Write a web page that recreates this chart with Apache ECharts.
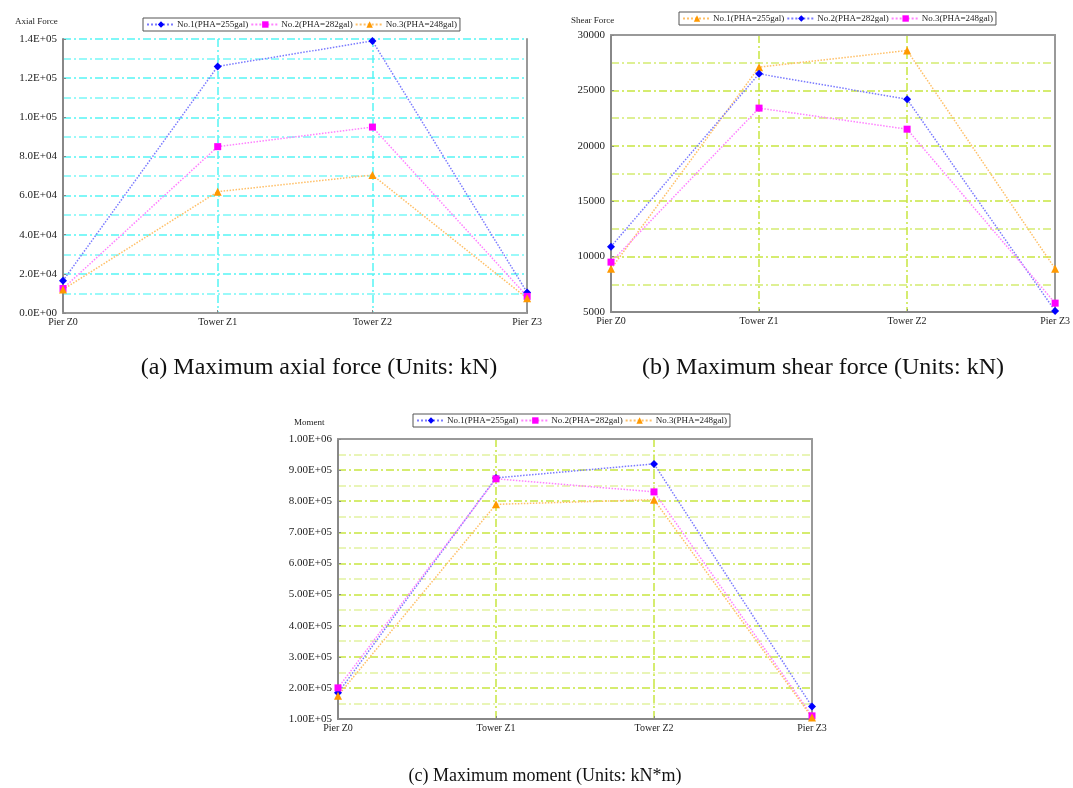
<!DOCTYPE html>
<html><head><meta charset="utf-8">
<script src="https://cdn.jsdelivr.net/npm/echarts@6/dist/echarts.min.js"></script>
<style>
html,body{margin:0;padding:0;background:#fff;width:1073px;height:788px;overflow:hidden;}
.c{position:absolute;}
</style></head>
<body>
<div id="ca" class="c" style="left:0;top:0;width:545px;height:385px;"></div>
<div id="cb" class="c" style="left:545px;top:0;width:528px;height:385px;"></div>
<div id="cc" class="c" style="left:270px;top:395px;width:560px;height:393px;"></div>
<script>
const categories = ['Pier Z0', 'Tower Z1', 'Tower Z2', 'Pier Z3'];
const seriesNames = ['No.1(PHA=255gal)', 'No.2(PHA=282gal)', 'No.3(PHA=248gal)'];

// (a) axial force
const axialNo1 = [16500, 126000, 139000, 10500];
const axialNo2 = [12500, 85000, 95000, 8500];
const axialNo3 = [12000, 62000, 70500, 7500];
const axialTicks = ['0.0E+00', '2.0E+04', '4.0E+04', '6.0E+04', '8.0E+04', '1.0E+05', '1.2E+05', '1.4E+05'];

// (b) shear force
const shearNo1 = [8900, 27100, 28600, 8900];
const shearNo2 = [10900, 26500, 24200, 5100];
const shearNo3 = [9500, 23400, 21500, 5800];
const shearTicks = ['5000', '10000', '15000', '20000', '25000', '30000'];

// (c) moment
const momentNo1 = [184000, 875000, 920000, 140000];
const momentNo2 = [200000, 872000, 830000, 110000];
const momentNo3 = [175000, 790000, 805000, 105000];
const momentTicks = ['1.00E+05', '2.00E+05', '3.00E+05', '4.00E+05', '5.00E+05', '6.00E+05', '7.00E+05', '8.00E+05', '9.00E+05', '1.00E+06'];

const FONT = '"Liberation Serif", "DejaVu Serif", serif';
const STY = {
  blue: {symbol: 'diamond', item: '#0000ff', line: '#7a7aff'},
  mag: {symbol: 'rect', item: '#ff00ff', line: '#ff80ff'},
  org: {symbol: 'triangle', item: '#ff9900', line: '#ffbf66'}
};

function mkSeries(name, data, st) {
  return {
    name: name, type: 'line', data: data, z: 5,
    symbol: st.symbol, symbolSize: st.symbol === 'rect' ? 7 : 8,
    itemStyle: {color: st.item},
    lineStyle: {color: st.line, width: 1.5, type: 'dotted'},
    emphasis: {disabled: true},
    animation: false
  };
}

function build(el, cfg) {
  const chart = echarts.init(document.getElementById(el), null, {renderer: 'canvas'});
  const labels = cfg.ticks;
  const dash = [8, 3, 2, 3];
  chart.setOption({
    animation: false,
    title: [
      {text: cfg.yName, left: cfg.yNameLeft, top: cfg.yNameTop, textStyle: {fontFamily: FONT, fontSize: 9, fontWeight: 'normal', color: '#222'}},
      {text: cfg.caption, left: cfg.capLeft, top: cfg.capTop, textAlign: 'center', textStyle: {fontFamily: FONT, fontSize: cfg.capSize, fontWeight: 'normal', color: '#111'}}
    ],
    legend: {
      left: cfg.legLeft, top: cfg.legTop,
      data: cfg.legend,
      borderColor: '#555', borderWidth: 1, padding: [2, 3],
      itemWidth: 28, itemHeight: 8, itemGap: 2,
      textStyle: {fontFamily: FONT, fontSize: 9, color: '#222', padding: [0, 0, 0, -3]},
      selectedMode: false
    },
    grid: {left: cfg.grid[0], top: cfg.grid[1], width: cfg.grid[2], height: cfg.grid[3], show: false},
    xAxis: [{
      type: 'category', data: categories, boundaryGap: false,
      axisLine: {lineStyle: {color: '#888', width: 2}},
      axisTick: {show: true, inside: true, length: 3, lineStyle: {color: '#888'}},
      axisLabel: {fontFamily: FONT, fontSize: 10, color: '#222', margin: 4},
      splitLine: {show: true, lineStyle: {color: cfg.gridColor, width: 1.5, type: dash}}
    }, {
      type: 'category', data: categories, boundaryGap: false, position: 'top',
      axisLine: {show: true, lineStyle: {color: '#999', width: 2}},
      axisTick: {show: false}, axisLabel: {show: false}, splitLine: {show: false}
    }],
    yAxis: [{
      type: 'value', min: cfg.min, max: cfg.max, interval: cfg.interval,
      axisLine: {show: true, lineStyle: {color: '#888', width: 2}},
      axisTick: {show: true, inside: true, length: 3, lineStyle: {color: '#888'}},
      axisLabel: {fontFamily: FONT, fontSize: 11, color: '#222', margin: 6,
        formatter: function (v) { const i = Math.round((v - cfg.min) / cfg.interval); return labels[i] || ''; }},
      splitLine: {show: true, lineStyle: {color: cfg.gridColor, width: 1.5, type: dash}},
      minorTick: {show: false, splitNumber: 2},
      minorSplitLine: {show: true, lineStyle: {color: cfg.minorColor, width: 1.5, type: dash}}
    }, {
      type: 'value', min: cfg.min, max: cfg.max, interval: cfg.interval, position: 'right',
      axisLine: {show: true, lineStyle: {color: '#999', width: 2}},
      axisTick: {show: false}, axisLabel: {show: false}, splitLine: {show: false}
    }],
    series: cfg.series
  });
}

build('ca', {
  yName: 'Axial Force', yNameLeft: 10, yNameTop: 12,
  caption: '(a) Maximum axial force (Units: kN)', capLeft: 314, capTop: 351, capSize: 24,
  legLeft: 143, legTop: 18, legend: seriesNames,
  grid: [63, 39, 472, 274],
  min: 0, max: 140000, interval: 20000, ticks: axialTicks,
  gridColor: '#55f5f5', minorColor: '#7af7f7',
  series: [
    mkSeries(seriesNames[0], axialNo1, STY.blue),
    mkSeries(seriesNames[1], axialNo2, STY.mag),
    mkSeries(seriesNames[2], axialNo3, STY.org)
  ]
});

build('cb', {
  yName: 'Shear Force', yNameLeft: 21, yNameTop: 11,
  caption: '(b) Maximum shear force (Units: kN)', capLeft: 273, capTop: 351, capSize: 24,
  legLeft: 134, legTop: 12, legend: seriesNames,
  grid: [66, 35, 448, 277],
  min: 5000, max: 30000, interval: 5000, ticks: shearTicks,
  gridColor: '#c8e640', minorColor: '#d4ec70',
  series: [
    mkSeries(seriesNames[0], shearNo1, STY.org),
    mkSeries(seriesNames[1], shearNo2, STY.blue),
    mkSeries(seriesNames[2], shearNo3, STY.mag)
  ]
});

build('cc', {
  yName: 'Moment', yNameLeft: 19, yNameTop: 18,
  caption: '(c) Maximum moment (Units: kN*m)', capLeft: 270, capTop: 367, capSize: 18,
  legLeft: 143, legTop: 19, legend: seriesNames,
  grid: [68, 44, 474, 280],
  min: 100000, max: 1000000, interval: 100000, ticks: momentTicks,
  gridColor: '#c8e640', minorColor: '#e2f2a0',
  series: [
    mkSeries(seriesNames[0], momentNo1, STY.blue),
    mkSeries(seriesNames[1], momentNo2, STY.mag),
    mkSeries(seriesNames[2], momentNo3, STY.org)
  ]
});
</script>
</body></html>
